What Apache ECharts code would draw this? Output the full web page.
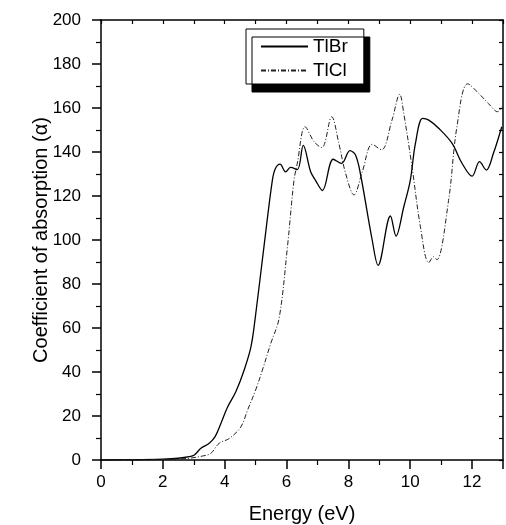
<!DOCTYPE html>
<html>
<head>
	<meta charset="utf-8">
	<title>Absorption</title>
	<script src="https://cdn.jsdelivr.net/npm/echarts@6/dist/echarts.min.js"></script>
	<style>
		html,body{margin:0;padding:0;background:#fff;}
		#main{width:506px;height:525px;}
	</style>
</head>
<body>
<div id="main"></div>
<script type="text/javascript">
// TlBr (solid)
var tlbrE = [0, 1, 2, 2.5, 2.85, 3.02, 3.23, 3.5, 3.69, 3.88, 4.09, 4.36, 4.63, 4.85, 5.0, 5.27, 5.54, 5.64, 5.79, 5.97, 6.13, 6.35, 6.54, 6.78, 6.94, 7.16, 7.51, 7.78, 8.05, 8.23, 8.39, 8.77, 8.96, 9.36, 9.54, 9.79, 10.0, 10.17, 10.4, 10.6, 10.92, 11.35, 11.67, 12.0, 12.24, 12.46, 12.69, 12.96];
var tlbrA = [0, 0.1, 0.4, 0.8, 1.5, 2.3, 5.3, 7.6, 10.6, 16.7, 24, 31, 40.9, 51.5, 66, 97, 127, 132.5, 134.5, 131, 133, 132, 143, 131, 127, 122.5, 136.7, 134.8, 140.6, 138.6, 130, 100, 88.5, 110.9, 101.8, 115, 127, 144, 155.3, 154.5, 150.8, 144, 135, 129, 135.6, 131.8, 139.4, 151.5];
// TlCl (dash-dot)
var tlclE = [0, 1, 2, 2.5, 2.85, 3.28, 3.55, 3.82, 4.15, 4.52, 4.74, 5.0, 5.22, 5.49, 5.76, 6.03, 6.24, 6.35, 6.6, 6.89, 7.14, 7.46, 7.69, 7.91, 8.18, 8.45, 8.77, 9.07, 9.41, 9.66, 9.79, 10.06, 10.33, 10.6, 10.76, 10.86, 11.24, 11.51, 11.86, 12.26, 12.53, 12.83, 12.96];
var tlclA = [0, 0.05, 0.2, 0.5, 0.8, 1.8, 3, 7.6, 9.8, 15, 22.7, 31.8, 40.9, 53, 64.4, 97, 127, 135, 151.5, 144.7, 142, 156, 144, 130.3, 120.5, 131, 143.5, 141, 154.5, 166.2, 157.6, 133, 106, 89.7, 92.4, 91, 118, 151.5, 171, 166, 162, 158.3, 160.6];

function pairs(xs, ys){
	return xs.map(function(x, i){ return [x, ys[i]]; });
}

var font = 'Liberation Sans, Arial, sans-serif';
var myChart = echarts.init(document.getElementById('main'));

var option = {
	backgroundColor: '#fff',
	animation: false,
	grid: { left: 101, right: 3, top: 20, bottom: 65, outerBoundsMode: 'none' },
	legend: {
		left: 246, top: 29,
		orient: 'vertical',
		padding: [7, 16, 3, 14],
		itemWidth: 47, itemHeight: 12, itemGap: 3,
		itemStyle: { opacity: 0 },
		backgroundColor: '#fff',
		borderColor: '#000', borderWidth: 1,
		shadowColor: '#000', shadowBlur: 0, shadowOffsetX: 6, shadowOffsetY: 8,
		textStyle: { color: '#000', fontSize: 19, lineHeight: 21, fontFamily: font },
		data: ['TlBr', 'TlCl']
	},
	xAxis: [{
		type: 'value', min: 0, max: 13, interval: 2,
		name: 'Energy (eV)', nameLocation: 'middle', nameGap: 44, nameMoveOverlap: false,
		nameTextStyle: { color: '#000', fontSize: 20, fontFamily: font },
		axisLine: { onZero: false, lineStyle: { color: '#000', width: 1.5 } },
		axisTick: { length: 9, lineStyle: { color: '#000', width: 1.5 } },
		minorTick: { show: true, splitNumber: 2, length: 5, lineStyle: { color: '#000', width: 1.2 } },
		axisLabel: { color: '#000', fontSize: 17, fontFamily: font, margin: 14, showMaxLabel: false },
		splitLine: { show: false }
	}, {
		type: 'value', min: 0, max: 13, interval: 2, position: 'top',
		axisLine: { onZero: false, lineStyle: { color: '#000', width: 1.5 } },
		axisTick: { inside: true, length: 4, lineStyle: { color: '#000', width: 1.2 } },
		minorTick: { show: true, splitNumber: 2, length: 4, lineStyle: { color: '#000', width: 1.2 } },
		axisLabel: { show: false },
		splitLine: { show: false }
	}],
	yAxis: [{
		type: 'value', min: 0, max: 200, interval: 20,
		name: 'Coefficient of absorption (α)', nameLocation: 'middle', nameGap: 50, nameMoveOverlap: false,
		nameTextStyle: { color: '#000', fontSize: 20, fontFamily: font },
		axisLine: { show: true, onZero: false, lineStyle: { color: '#000', width: 1.5 } },
		axisTick: { length: 9, lineStyle: { color: '#000', width: 1.5 } },
		minorTick: { show: true, splitNumber: 2, length: 5, lineStyle: { color: '#000', width: 1.2 } },
		axisLabel: { color: '#000', fontSize: 17, fontFamily: font, margin: 20 },
		splitLine: { show: false }
	}, {
		type: 'value', min: 0, max: 200, interval: 20, position: 'right',
		axisLine: { show: true, onZero: false, lineStyle: { color: '#000', width: 1.5 } },
		axisTick: { inside: true, length: 4, lineStyle: { color: '#000', width: 1.2 } },
		minorTick: { show: true, splitNumber: 2, length: 4, lineStyle: { color: '#000', width: 1.2 } },
		axisLabel: { show: false },
		splitLine: { show: false }
	}],
	series: [{
		name: 'TlBr', type: 'line', symbol: 'none', smooth: 0.35,
		itemStyle: { color: '#000' },
		lineStyle: { color: '#000', width: 1.3, type: 'solid' },
		data: pairs(tlbrE, tlbrA)
	}, {
		name: 'TlCl', type: 'line', symbol: 'none', smooth: 0.35,
		itemStyle: { color: '#222' },
		lineStyle: { color: '#222', width: 1, type: [5, 2, 1, 2] },
		data: pairs(tlclE, tlclA)
	}]
};
myChart.setOption(option);
</script>
</body>
</html>
